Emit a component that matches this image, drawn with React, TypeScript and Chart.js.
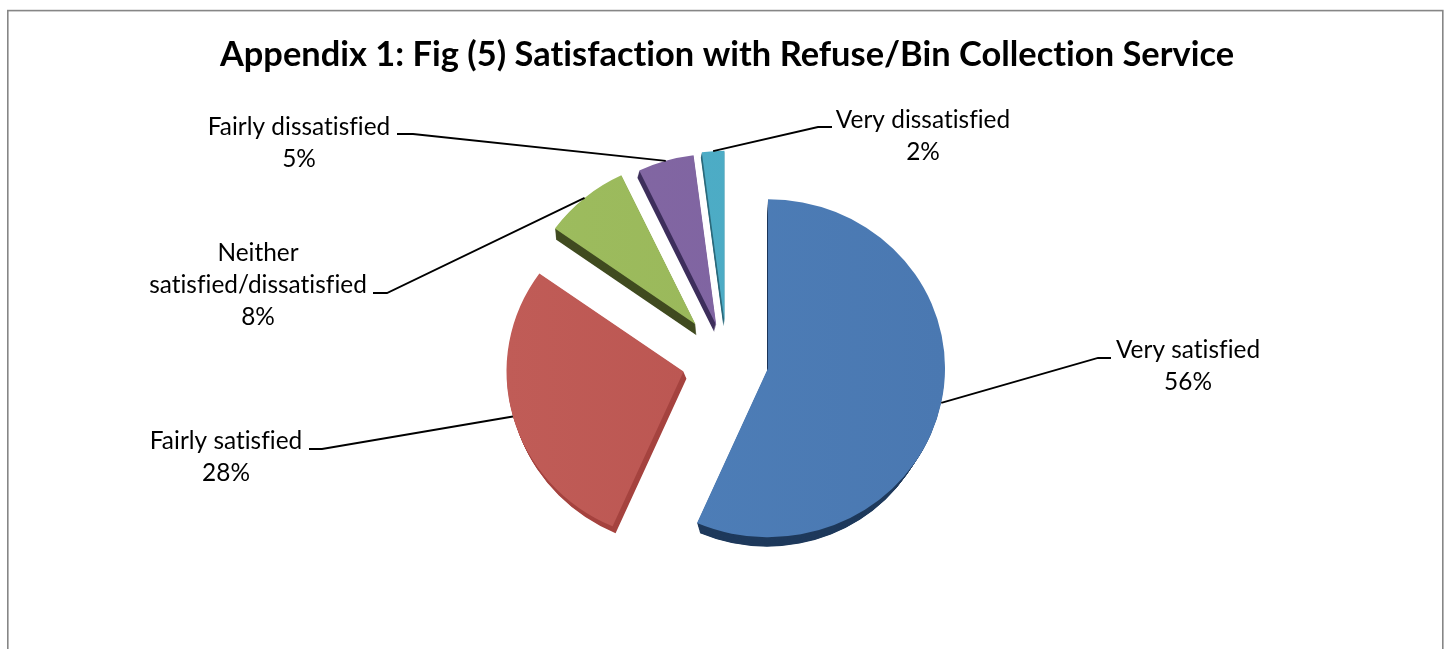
import React, { useEffect, useRef } from "react";
import { Chart, registerables } from "chart.js";

Chart.register(...registerables);

const chartTitle = "Appendix 1: Fig (5) Satisfaction with Refuse/Bin Collection Service";
const categories = [
  "Very satisfied",
  "Fairly satisfied",
  "Neither satisfied/dissatisfied",
  "Fairly dissatisfied",
  "Very dissatisfied",
];
const categoryLines = [
  ["Very satisfied"],
  ["Fairly satisfied"],
  ["Neither", "satisfied/dissatisfied"],
  ["Fairly dissatisfied"],
  ["Very dissatisfied"],
];
const shares = [56, 28, 8, 5, 2];

// Slice paint: gradient start, gradient end, extruded side colour.
const faceStart = ["#4E7FB9", "#C05C57", "#9DBC5E", "#8368A3", "#4EAFC8"];
const faceEnd = ["#4A78B1", "#B8524E", "#98B658", "#7D61A0", "#4BA8C2"];
const sideColors = ["#1F3A5C", "#A5433F", "#404B20", "#3E2F5C", "#2C6A7C"];

// Pie geometry: squashed vertically to suggest a tilted disc.
const centerX = 727;
const centerY = 360;
const pieRadius = 177;
const tilt = 0.955;
const explode = [41.9, 45.1, 49, 38.2, 40];
const sliceScale = [1, 1, 0.975, 1.012, 1.012];
const sideShift = [
  [-1, 19],
  [3, 7],
  [1, 11],
  [-2, 7],
  [-1, 5],
];
const sideInset = [10, 0, 0, 0, 0];

// Callout layout: text centre, first row centre, elbow and end of each leader.
const labelCenterX = [1188, 226, 258, 299, 923];
const labelTopY = [350, 441, 253, 127, 120];
const elbowA = [
  [1098, 358],
  [322, 449],
  [387, 293],
  [413, 134],
  [818, 127],
];
const elbowB = [
  [1111, 358],
  [309, 449],
  [373, 293],
  [397, 134],
  [832, 127],
];
const labelFont = "24.4px Lato";
const labelLineHeight = 32;

// Applies the tilt and the per-slice explosion, leaving the context at the slice's own origin.
function placeSlice(ctx: CanvasRenderingContext2D, arc: any, i: number, shiftX = 0, shiftY = 0) {
  const mid = (arc.startAngle + arc.endAngle) / 2;
  ctx.translate(shiftX, shiftY);
  ctx.translate(arc.x, arc.y);
  ctx.scale(1, tilt);
  ctx.translate(Math.cos(mid) * explode[i], Math.sin(mid) * explode[i]);
  ctx.scale(sliceScale[i], sliceScale[i]);
  ctx.translate(-arc.x, -arc.y);
}

const tiltedPie = {
  id: "tiltedPie",
  beforeDraw(chart: any) {
    const { ctx } = chart;
    // A hair of tracking keeps the browser from forming fi/ti ligatures.
    ctx.letterSpacing = "0.02px";
    ctx.save();
    ctx.strokeStyle = "#868686";
    ctx.lineWidth = 1.6;
    ctx.strokeRect(7.8, 10.6, 1435, 700);
    ctx.restore();
  },
  beforeDatasetDraw(chart: any) {
    const { ctx } = chart;
    const arcs = chart.getDatasetMeta(0).data;

    // Extruded sides first, so the faces sit on top of them.
    arcs.forEach((arc: any, i: number) => {
      const [sx, sy] = sideShift[i];
      const steps = Math.ceil(Math.max(Math.abs(sx), Math.abs(sy)));
      for (let k = steps; k >= 1; k--) {
        ctx.save();
        placeSlice(ctx, arc, i, (sx * k) / steps, (sy * k) / steps);
        ctx.beginPath();
        ctx.moveTo(arc.x, arc.y);
        ctx.arc(arc.x, arc.y, arc.outerRadius - (sideInset[i] * k) / steps, arc.startAngle, arc.endAngle);
        ctx.closePath();
        ctx.fillStyle = sideColors[i];
        ctx.fill();
        ctx.restore();
      }
    });

    arcs.forEach((arc: any, i: number) => {
      ctx.save();
      placeSlice(ctx, arc, i);
      arc.draw(ctx);
      ctx.restore();
    });
    return false;
  },
  afterDatasetsDraw(chart: any) {
    const { ctx } = chart;
    const arcs = chart.getDatasetMeta(0).data;
    arcs.forEach((arc: any, i: number) => {
      // Leader tail lands on the middle of the slice's outer edge.
      const mid = (arc.startAngle + arc.endAngle) / 2;
      const reach = explode[i] + arc.outerRadius * sliceScale[i];
      const tailX = arc.x + Math.cos(mid) * reach;
      const tailY = arc.y + Math.sin(mid) * reach * tilt;

      ctx.save();
      ctx.strokeStyle = "#000000";
      ctx.lineWidth = 1.8;
      ctx.beginPath();
      ctx.moveTo(tailX, tailY);
      ctx.lineTo(elbowA[i][0], elbowA[i][1]);
      ctx.lineTo(elbowB[i][0], elbowB[i][1]);
      ctx.stroke();

      ctx.font = labelFont;
      ctx.fillStyle = "#000000";
      ctx.textAlign = "center";
      ctx.textBaseline = "middle";
      const lines = [...categoryLines[i], `${shares[i]}%`];
      lines.forEach((line, n) => {
        ctx.fillText(line, labelCenterX[i], labelTopY[i] + n * labelLineHeight);
      });
      ctx.restore();
    });
  },
};

export default function App() {
  const canvasRef = useRef<HTMLCanvasElement | null>(null);

  useEffect(() => {
    const canvas = canvasRef.current;
    if (!canvas) return;
    const chart = new Chart(canvas, {
      type: "pie",
      data: {
        labels: categories,
        datasets: [
          {
            data: shares,
            borderWidth: 0,
            backgroundColor: (c: any) => {
              const i = c.dataIndex ?? 0;
              const g = c.chart.ctx.createLinearGradient(
                centerX - pieRadius,
                0,
                centerX + pieRadius,
                0,
              );
              g.addColorStop(0, faceStart[i]);
              g.addColorStop(1, faceEnd[i]);
              return g;
            },
          },
        ],
      },
      options: {
        responsive: false,
        animation: false,
        radius: pieRadius,
        layout: { padding: { left: 5, right: 0, top: 0, bottom: 9 } },
        plugins: {
          legend: { display: false },
          tooltip: { enabled: false },
          title: {
            display: true,
            text: chartTitle,
            color: "#000000",
            font: { family: "Lato", size: 34.4, weight: "bold", lineHeight: 1.2 },
            padding: { top: 34.4, bottom: 4.3 },
          },
        },
      } as any,
      plugins: [tiltedPie],
    });
    return () => chart.destroy();
  }, []);

  return (
    <div style={{ position: "absolute", left: 0, top: 0, width: 1449, height: 649, overflow: "hidden", background: "#ffffff" }}>
      <canvas ref={canvasRef} width={1449} height={649} style={{ display: "block" }} />
    </div>
  );
}
